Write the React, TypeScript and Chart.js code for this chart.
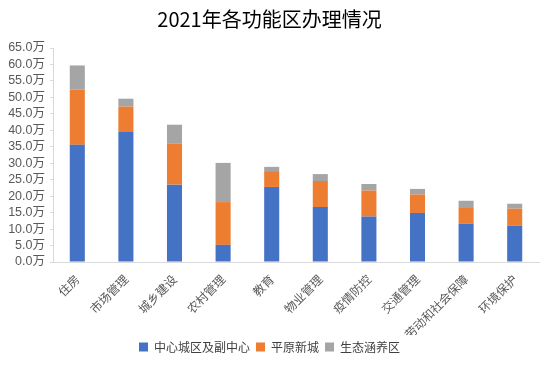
import React, { useEffect, useRef } from "react";
import { Chart, registerables } from "chart.js";

Chart.register(...registerables);

const categories = ["住房", "市场管理", "城乡建设", "农村管理", "教育", "物业管理", "疫情防控", "交通管理", "劳动和社会保障", "环境保护"];
const centralValues = [35.6, 39.6, 23.5, 5.2, 22.8, 16.7, 13.8, 14.9, 11.6, 11.0];
const plainValues = [16.8, 7.6, 12.4, 13.0, 4.8, 7.9, 7.9, 5.6, 4.8, 5.2];
const ecoValues = [7.3, 2.4, 5.8, 11.9, 1.3, 2.1, 2.0, 1.7, 2.2, 1.5];
const seriesNames = ["中心城区及副中心", "平原新城", "生态涵养区"];
const titleText = "2021年各功能区办理情况";

const FONT = "'Liberation Sans', 'Noto Sans CJK SC', sans-serif";

export default function App() {
  const ref = useRef<HTMLCanvasElement | null>(null);
  useEffect(() => {
    if (!ref.current) return;
    const chart = new Chart(ref.current, {
      type: "bar",
      data: {
        labels: categories,
        datasets: [
          { label: seriesNames[0], data: centralValues, backgroundColor: "#4472C4" },
          { label: seriesNames[1], data: plainValues, backgroundColor: "#ED7D31" },
          { label: seriesNames[2], data: ecoValues, backgroundColor: "#A5A5A5" },
        ],
      },
      options: {
        animation: false,
        responsive: false,
        maintainAspectRatio: false,
        datasets: { bar: { categoryPercentage: 1, barPercentage: 0.31 } },
        layout: { padding: { left: 0, right: 15, top: 0, bottom: 7 } },
        plugins: {
          title: {
            display: true,
            text: titleText,
            color: "#000000",
            font: { family: "'Noto Sans CJK SC', sans-serif", size: 20, weight: "normal" },
            padding: { top: 7, bottom: 17 },
          },
          legend: {
            position: "bottom",
            labels: {
              boxWidth: 9,
              boxHeight: 9,
              color: "#404040",
              font: { family: "'Noto Sans CJK SC', sans-serif", size: 12 },
              padding: 6,
            },
          },
          tooltip: { enabled: false },
        },
        scales: {
          x: {
            stacked: true,
            grid: { display: false },
            border: { display: true, color: "#D9D9D9", width: 1 },
            ticks: {
              autoSkip: false,
              maxRotation: 45,
              minRotation: 45,
              color: "#595959",
              font: { family: "'Noto Sans CJK SC', sans-serif", size: 12 },
              padding: 2,
            },
            afterFit: (s: any) => {
              s.height = 73;
            },
          },
          y: {
            stacked: true,
            min: 0,
            max: 65,
            grid: { drawOnChartArea: false, drawTicks: true, tickLength: 3, color: "#D9D9D9" },
            border: { display: true, color: "#D9D9D9", width: 1 },
            ticks: {
              autoSkip: false,
              stepSize: 5,
              color: "#595959",
              font: { family: FONT, size: 12.5 },
              padding: 5,
              callback: (v: any) => Number(v).toFixed(1) + "万",
            },
            afterFit: (s: any) => {
              s.width = 53;
            },
          },
        },
      },
    });
    return () => chart.destroy();
  }, []);
  return (
    <div style={{ position: "fixed", left: 0, top: 0, width: 554, height: 370, background: "#fff" }}>
      <canvas ref={ref} width={554} height={370} />
    </div>
  );
}
